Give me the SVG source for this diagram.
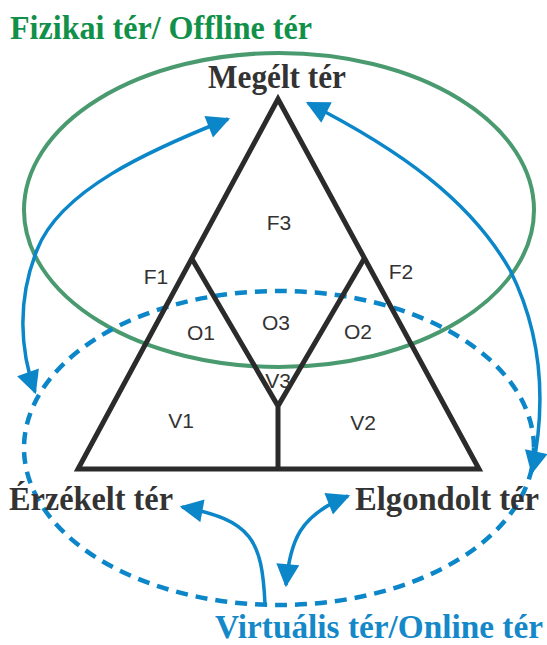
<svg xmlns="http://www.w3.org/2000/svg" width="547" height="645" viewBox="0 0 547 645">
<defs>
<style>
.title{font-family:"Liberation Serif","Times New Roman",serif;font-weight:bold;font-size:33px}
.lbl{font-family:"Liberation Sans",Arial,sans-serif;font-size:21px;fill:#333;text-anchor:middle}
.tri{fill:none;stroke:#2b2b2b;stroke-width:5;stroke-linejoin:miter}
.arr{fill:none;stroke:#0b86c8;stroke-width:3.5;marker-end:url(#ah)}
.arr2{fill:none;stroke:#0b86c8;stroke-width:3.5;marker-end:url(#ah);marker-start:url(#ah)}
</style>
<marker id="ah" viewBox="0 0 10 10" refX="9" refY="5" markerWidth="7" markerHeight="6.6" orient="auto-start-reverse" markerUnits="strokeWidth">
<path d="M0,0 L10,5 L0,10 Z" fill="#0b86c8"/>
</marker>
</defs>
<rect width="547" height="645" fill="#fff"/>
<g id="offline-space">
<ellipse cx="279" cy="210" rx="255" ry="157" fill="none" stroke="#4a9a6f" stroke-width="4"/>
<text class="title" x="10" y="39" fill="#11904a" textLength="302" lengthAdjust="spacingAndGlyphs">Fizikai tér/ Offline tér</text>
</g>
<g id="online-space">
<ellipse cx="279" cy="448" rx="255" ry="157" fill="none" stroke="#0b86c8" stroke-width="4.5" stroke-dasharray="12 8"/>
<text class="title" x="215" y="638" fill="#1488c8" textLength="328" lengthAdjust="spacingAndGlyphs">Virtuális tér/Online tér</text>
</g>
<g id="triangle">
<path class="tri" d="M278,99 L78,469 L479,469 Z"/>
<path class="tri" d="M192,259 L278,406 L364,259 M278,406 L278,469"/>
</g>
<g id="megelt">
<text class="title" x="208" y="88" fill="#333" textLength="138" lengthAdjust="spacingAndGlyphs">Megélt tér</text>
</g>
<g id="erzekelt">
<text class="title" x="9" y="510" fill="#333" textLength="164" lengthAdjust="spacingAndGlyphs">Érzékelt tér</text>
</g>
<g id="elgondolt">
<text class="title" x="355" y="510" fill="#333" textLength="184" lengthAdjust="spacingAndGlyphs">Elgondolt tér</text>
</g>
<g id="regions">
<text class="lbl" x="279" y="230">F3</text>
<text class="lbl" x="156" y="284">F1</text>
<text class="lbl" x="401" y="279">F2</text>
<text class="lbl" x="201" y="340">O1</text>
<text class="lbl" x="276" y="330">O3</text>
<text class="lbl" x="358" y="339">O2</text>
<text class="lbl" x="278" y="388">V3</text>
<text class="lbl" x="181" y="428">V1</text>
<text class="lbl" x="363" y="430">V2</text>
</g>
<g id="connectors">
<path class="arr2" d="M228,119 C150,150 60,190 37,250 C17,300 20,350 35,392"/>
<path class="arr2" d="M308,103 C400,150 470,200 510,270 C545,340 545,410 532,472"/>
<path class="arr" d="M265,604 C262,540 252,520 182,507"/>
<path class="arr2" d="M286,585 C290,540 300,515 348,496"/>
</g>
</svg>
